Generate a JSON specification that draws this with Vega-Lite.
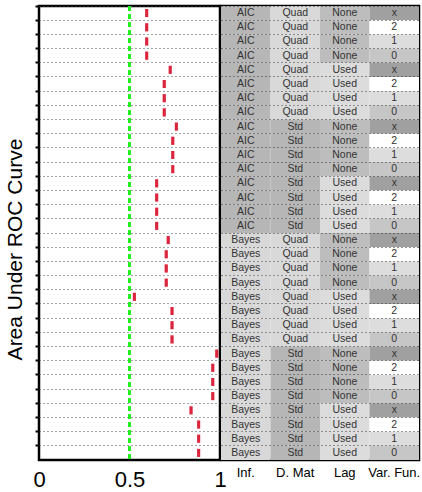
{
  "$schema": "https://vega.github.io/schema/vega-lite/v6.json",
  "padding": {"left": 2, "top": 3, "right": 2, "bottom": 2},
  "bounds": "flush",
  "spacing": 1,
  "config": {
    "font": "Liberation Sans",
    "view": {"stroke": "#000", "strokeWidth": 2.5},
    "axis": {"domain": false}
  },
  "datasets": {
    "rows": [
      {"id": 1, "auc": 0.595, "inf": "AIC", "dmat": "Quad", "lag": "None", "vf": "x"},
      {"id": 2, "auc": 0.595, "inf": "AIC", "dmat": "Quad", "lag": "None", "vf": "2"},
      {"id": 3, "auc": 0.595, "inf": "AIC", "dmat": "Quad", "lag": "None", "vf": "1"},
      {"id": 4, "auc": 0.595, "inf": "AIC", "dmat": "Quad", "lag": "None", "vf": "0"},
      {"id": 5, "auc": 0.725, "inf": "AIC", "dmat": "Quad", "lag": "Used", "vf": "x"},
      {"id": 6, "auc": 0.692, "inf": "AIC", "dmat": "Quad", "lag": "Used", "vf": "2"},
      {"id": 7, "auc": 0.692, "inf": "AIC", "dmat": "Quad", "lag": "Used", "vf": "1"},
      {"id": 8, "auc": 0.692, "inf": "AIC", "dmat": "Quad", "lag": "Used", "vf": "0"},
      {"id": 9, "auc": 0.759, "inf": "AIC", "dmat": "Std", "lag": "None", "vf": "x"},
      {"id": 10, "auc": 0.739, "inf": "AIC", "dmat": "Std", "lag": "None", "vf": "2"},
      {"id": 11, "auc": 0.739, "inf": "AIC", "dmat": "Std", "lag": "None", "vf": "1"},
      {"id": 12, "auc": 0.739, "inf": "AIC", "dmat": "Std", "lag": "None", "vf": "0"},
      {"id": 13, "auc": 0.65, "inf": "AIC", "dmat": "Std", "lag": "Used", "vf": "x"},
      {"id": 14, "auc": 0.65, "inf": "AIC", "dmat": "Std", "lag": "Used", "vf": "2"},
      {"id": 15, "auc": 0.65, "inf": "AIC", "dmat": "Std", "lag": "Used", "vf": "1"},
      {"id": 16, "auc": 0.65, "inf": "AIC", "dmat": "Std", "lag": "Used", "vf": "0"},
      {"id": 17, "auc": 0.714, "inf": "Bayes", "dmat": "Quad", "lag": "None", "vf": "x"},
      {"id": 18, "auc": 0.703, "inf": "Bayes", "dmat": "Quad", "lag": "None", "vf": "2"},
      {"id": 19, "auc": 0.703, "inf": "Bayes", "dmat": "Quad", "lag": "None", "vf": "1"},
      {"id": 20, "auc": 0.703, "inf": "Bayes", "dmat": "Quad", "lag": "None", "vf": "0"},
      {"id": 21, "auc": 0.527, "inf": "Bayes", "dmat": "Quad", "lag": "Used", "vf": "x"},
      {"id": 22, "auc": 0.735, "inf": "Bayes", "dmat": "Quad", "lag": "Used", "vf": "2"},
      {"id": 23, "auc": 0.735, "inf": "Bayes", "dmat": "Quad", "lag": "Used", "vf": "1"},
      {"id": 24, "auc": 0.735, "inf": "Bayes", "dmat": "Quad", "lag": "Used", "vf": "0"},
      {"id": 25, "auc": 0.982, "inf": "Bayes", "dmat": "Std", "lag": "None", "vf": "x"},
      {"id": 26, "auc": 0.96, "inf": "Bayes", "dmat": "Std", "lag": "None", "vf": "2"},
      {"id": 27, "auc": 0.96, "inf": "Bayes", "dmat": "Std", "lag": "None", "vf": "1"},
      {"id": 28, "auc": 0.96, "inf": "Bayes", "dmat": "Std", "lag": "None", "vf": "0"},
      {"id": 29, "auc": 0.84, "inf": "Bayes", "dmat": "Std", "lag": "Used", "vf": "x"},
      {"id": 30, "auc": 0.882, "inf": "Bayes", "dmat": "Std", "lag": "Used", "vf": "2"},
      {"id": 31, "auc": 0.882, "inf": "Bayes", "dmat": "Std", "lag": "Used", "vf": "1"},
      {"id": 32, "auc": 0.882, "inf": "Bayes", "dmat": "Std", "lag": "Used", "vf": "0"}
    ],
    "ref": [{"chance": 0.5}]
  },
  "hconcat": [
    {
      "width": 181,
      "height": 454,
      "layer": [
        {
          "data": {"name": "rows"},
          "mark": {"type": "tick", "orient": "vertical", "color": "#d8102a", "thickness": 3, "size": 8},
          "encoding": {
            "x": {
              "field": "auc", "type": "quantitative",
              "scale": {"domain": [0, 1], "nice": false, "zero": false},
              "axis": {"values": [0, 0.5, 1], "format": "~g", "grid": false, "ticks": false, "labelFontSize": 22, "labelColor": "#000", "labelFlush": false, "labelPadding": 9, "title": null}
            },
            "y": {
              "field": "id", "type": "ordinal",
              "scale": {"paddingInner": 0, "paddingOuter": 0},
              "axis": {"bandPosition": 0, "labels": false, "ticks": true, "tickSize": 4, "tickWidth": 2, "tickColor": "#000", "grid": true, "gridDash": [1, 3], "gridColor": "#444", "gridWidth": 1, "title": "Area Under ROC Curve", "titleFontSize": 21, "titleFontWeight": "normal", "titleColor": "#000", "titlePadding": 9, "titleY": 243}
            }
          }
        },
        {
          "data": {"name": "ref"},
          "mark": {"type": "rule", "color": "#22ee22", "strokeWidth": 3, "strokeDash": [5, 3]},
          "encoding": {"x": {"field": "chance", "type": "quantitative"}}
        },
        {
          "data": {"name": "rows"},
          "mark": {"type": "tick", "orient": "vertical", "color": "#d8102a", "thickness": 3, "size": 8},
          "encoding": {
            "x": {"field": "auc", "type": "quantitative"},
            "y": {"field": "id", "type": "ordinal"}
          }
        }
      ]
    },
    {
      "width": 198,
      "height": 454,
      "data": {"name": "rows"},
      "transform": [{"fold": ["inf", "dmat", "lag", "vf"], "as": ["col", "val"]}],
      "encoding": {
        "x": {
          "field": "col", "type": "nominal",
          "sort": ["inf", "dmat", "lag", "vf"],
          "scale": {"paddingInner": 0, "paddingOuter": 0},
          "axis": {"labelAngle": 0, "labelExpr": "datum.value == 'inf' ? 'Inf.' : datum.value == 'dmat' ? 'D. Mat' : datum.value == 'lag' ? 'Lag' : 'Var. Fun.'", "labelFontSize": 13, "labelColor": "#000", "ticks": false, "labelPadding": 6, "title": null}
        },
        "y": {
          "field": "id", "type": "ordinal",
          "scale": {"paddingInner": 0, "paddingOuter": 0},
          "axis": {"bandPosition": 0, "labels": false, "ticks": false, "grid": true, "gridDash": [1, 3], "gridColor": "#333", "gridWidth": 1, "zindex": 1, "title": null}
        }
      },
      "layer": [
        {
          "mark": {"type": "rect"},
          "encoding": {
            "color": {
              "field": "val", "type": "nominal", "legend": null,
              "scale": {
                "domain": ["AIC", "Bayes", "Quad", "Std", "None", "Used", "x", "2", "1", "0"],
                "range": ["#b6b6b6", "#d8d8d8", "#d9d9d9", "#b6b6b6", "#bdbdbd", "#dcdcdc", "#a0a0a0", "#ffffff", "#dddddd", "#c6c6c6"]
              }
            }
          }
        },
        {
          "mark": {"type": "text", "fontSize": 10.5, "color": "#333", "baseline": "middle"},
          "encoding": {"text": {"field": "val", "type": "nominal"}}
        }
      ]
    }
  ]
}
